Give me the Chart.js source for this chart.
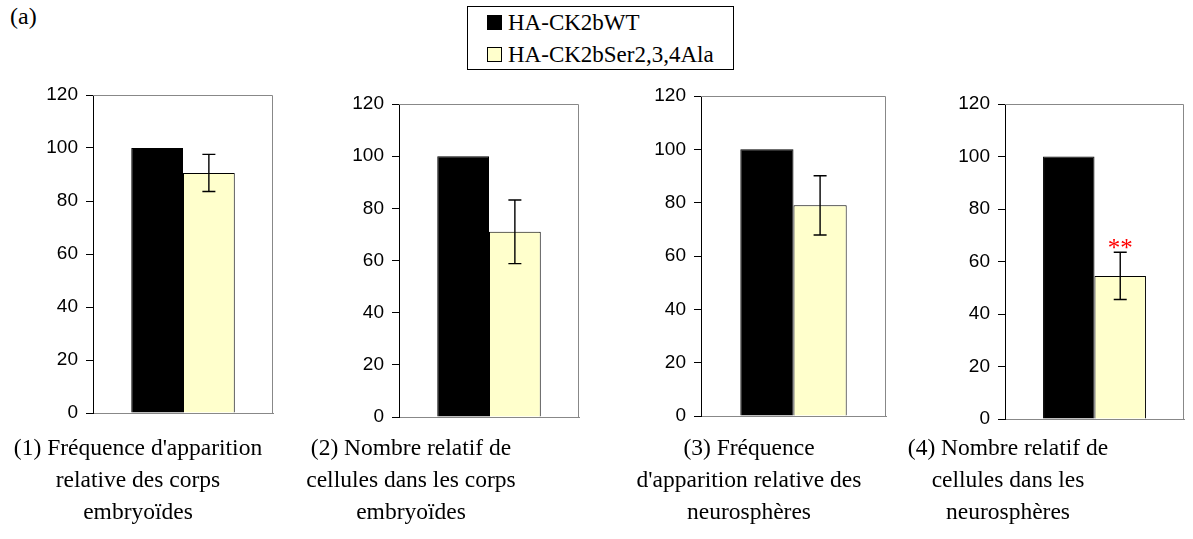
<!DOCTYPE html>
<html><head><meta charset="utf-8">
<script src="https://cdn.jsdelivr.net/npm/chart.js@4.4.0/dist/chart.umd.min.js"></script>
<style>
body{margin:0;width:1193px;height:539px;background:#fff;position:relative;overflow:hidden;font-family:"Liberation Serif","Times New Roman",serif;color:#000}
.abs{position:absolute}
canvas{position:absolute}
.cap{position:absolute;text-align:center;font-size:23.5px;line-height:32px;white-space:nowrap;transform:translateX(-50%)}
.lrow{position:absolute;left:19px;font-size:23px;line-height:28px;white-space:nowrap}
.sw{display:inline-block;width:15px;height:15px;border:1px solid #000;box-sizing:border-box;margin-right:6px;vertical-align:0px}
</style></head><body>
<div class="abs" style="left:10px;top:3px;font-size:24px">(a)</div>
<div id="legend" class="abs" style="left:467px;top:6px;width:267px;height:64px;border:1px solid #000;box-sizing:border-box"></div>
<div id="root"></div>
<script>
// ---- data ----
const seriesNames = ["HA-CK2bWT", "HA-CK2bSer2,3,4Ala"];
const wtValues = [100, 100, 100, 100];
const mutValues = [90.6, 71, 79, 54.5];
const mutErrors = [7, 12.2, 11.1, 9];
const significance = ["", "", "", "**"];
const yTicks = [0, 20, 40, 60, 80, 100, 120];
const panelTitles = [
  ["(1) Fréquence d'apparition", "relative des corps", "embryoïdes"],
  ["(2) Nombre relatif de", "cellules dans les corps", "embryoïdes"],
  ["(3) Fréquence", "d'apparition relative des", "neurosphères"],
  ["(4) Nombre relatif de", "cellules dans les", "neurosphères"]
];

// ---- layout (plot area edges) ----
const boxes = [
  {L:93, R:273, T:95, B:413, cx:138},
  {L:399, R:579, T:104, B:417, cx:411},
  {L:701, R:886, T:96, B:416, cx:749},
  {L:1005, R:1184, T:104, B:419, cx:1008}
];
const seriesColors = ["#000000", "#FFFFCC"];
const PL = 90, PR = 4, PT = 22, PB = 22;

// legend
const lg = document.getElementById('legend');
seriesNames.forEach((n, k) => {
  const d = document.createElement('div');
  d.className = 'lrow';
  d.style.top = (2 + k * 32) + 'px';
  d.innerHTML = '<span class="sw" style="background:' + seriesColors[k] + '"></span>' + n;
  lg.appendChild(d);
});

const framePlugin = {
  id: 'frame',
  afterDraw(chart) {
    const a = chart.chartArea, ctx = chart.ctx;
    ctx.save();
    ctx.strokeStyle = '#888';
    ctx.lineWidth = 1;
    ctx.beginPath();
    ctx.moveTo(a.left, a.top + 0.5);
    ctx.lineTo(a.right - 0.5, a.top + 0.5);
    ctx.lineTo(a.right - 0.5, a.bottom);
    ctx.stroke();
    ctx.restore();
  }
};

const errorPlugin = {
  id: 'err',
  afterDatasetsDraw(chart) {
    const i = chart.$panel;
    const bar = chart.getDatasetMeta(1).data[0];
    const ys = chart.scales.y, ctx = chart.ctx;
    const m = mutValues[i], e = mutErrors[i];
    const yt = ys.getPixelForValue(m + e), yb = ys.getPixelForValue(m - e);
    ctx.save();
    ctx.strokeStyle = '#000';
    ctx.lineWidth = 1.4;
    ctx.beginPath();
    ctx.moveTo(bar.x, yt); ctx.lineTo(bar.x, yb);
    ctx.moveTo(bar.x - 6.5, yt); ctx.lineTo(bar.x + 6.5, yt);
    ctx.moveTo(bar.x - 6.5, yb); ctx.lineTo(bar.x + 6.5, yb);
    ctx.stroke();
    if (significance[i]) {
      ctx.fillStyle = '#ff0000';
      ctx.font = '25px "Liberation Serif", serif';
      ctx.textAlign = 'center';
      ctx.textBaseline = 'alphabetic';
      ctx.fillText(significance[i], bar.x, yt + 4);
    }
    ctx.restore();
  }
};

const root = document.getElementById('root');
boxes.forEach((b, i) => {
  const w = PL + (b.R - b.L) + PR, h = PT + (b.B - b.T) + PB;
  const c = document.createElement('canvas');
  c.width = w; c.height = h;
  c.style.left = (b.L - PL) + 'px';
  c.style.top = (b.T - PT) + 'px';
  c.style.width = w + 'px'; c.style.height = h + 'px';
  root.appendChild(c);

  const cap = document.createElement('div');
  cap.className = 'cap';
  cap.style.left = b.cx + 'px';
  cap.style.top = '431px';
  cap.innerHTML = panelTitles[i].join('<br>');
  document.body.appendChild(cap);

  const chart = new Chart(c, {
    type: 'bar',
    data: {
      labels: [''],
      datasets: [
        {label: seriesNames[0], data: [wtValues[i]], backgroundColor: seriesColors[0], borderColor: '#000', borderWidth: 1},
        {label: seriesNames[1], data: [mutValues[i]], backgroundColor: seriesColors[1], borderColor: '#000', borderWidth: 1}
      ]
    },
    options: {
      responsive: false,
      animation: false,
      events: [],
      layout: {padding: {top: PT, right: PR, left: 0, bottom: 0}},
      plugins: {legend: {display: false}, tooltip: {enabled: false}},
      datasets: {bar: {barPercentage: 1, categoryPercentage: 0.575}},
      scales: {
        x: {
          grid: {display: false, drawTicks: false},
          border: {display: true, color: '#888', width: 1},
          ticks: {display: false},
          afterFit: s => { s.height = PB; }
        },
        y: {
          min: 0, max: 120,
          afterBuildTicks: s => { s.ticks = yTicks.map(v => ({value: v})); },
          grid: {display: true, drawOnChartArea: false, drawTicks: true, tickLength: 7, color: '#000'},
          border: {display: true, color: '#000', width: 1},
          ticks: {color: '#000', font: {family: '"Liberation Sans", Arial, sans-serif', size: 19}, padding: 8},
          afterFit: s => { s.width = PL; }
        }
      }
    },
    plugins: [framePlugin, errorPlugin]
  });
  chart.$panel = i;
  chart.update();
});
</script>
</body></html>
